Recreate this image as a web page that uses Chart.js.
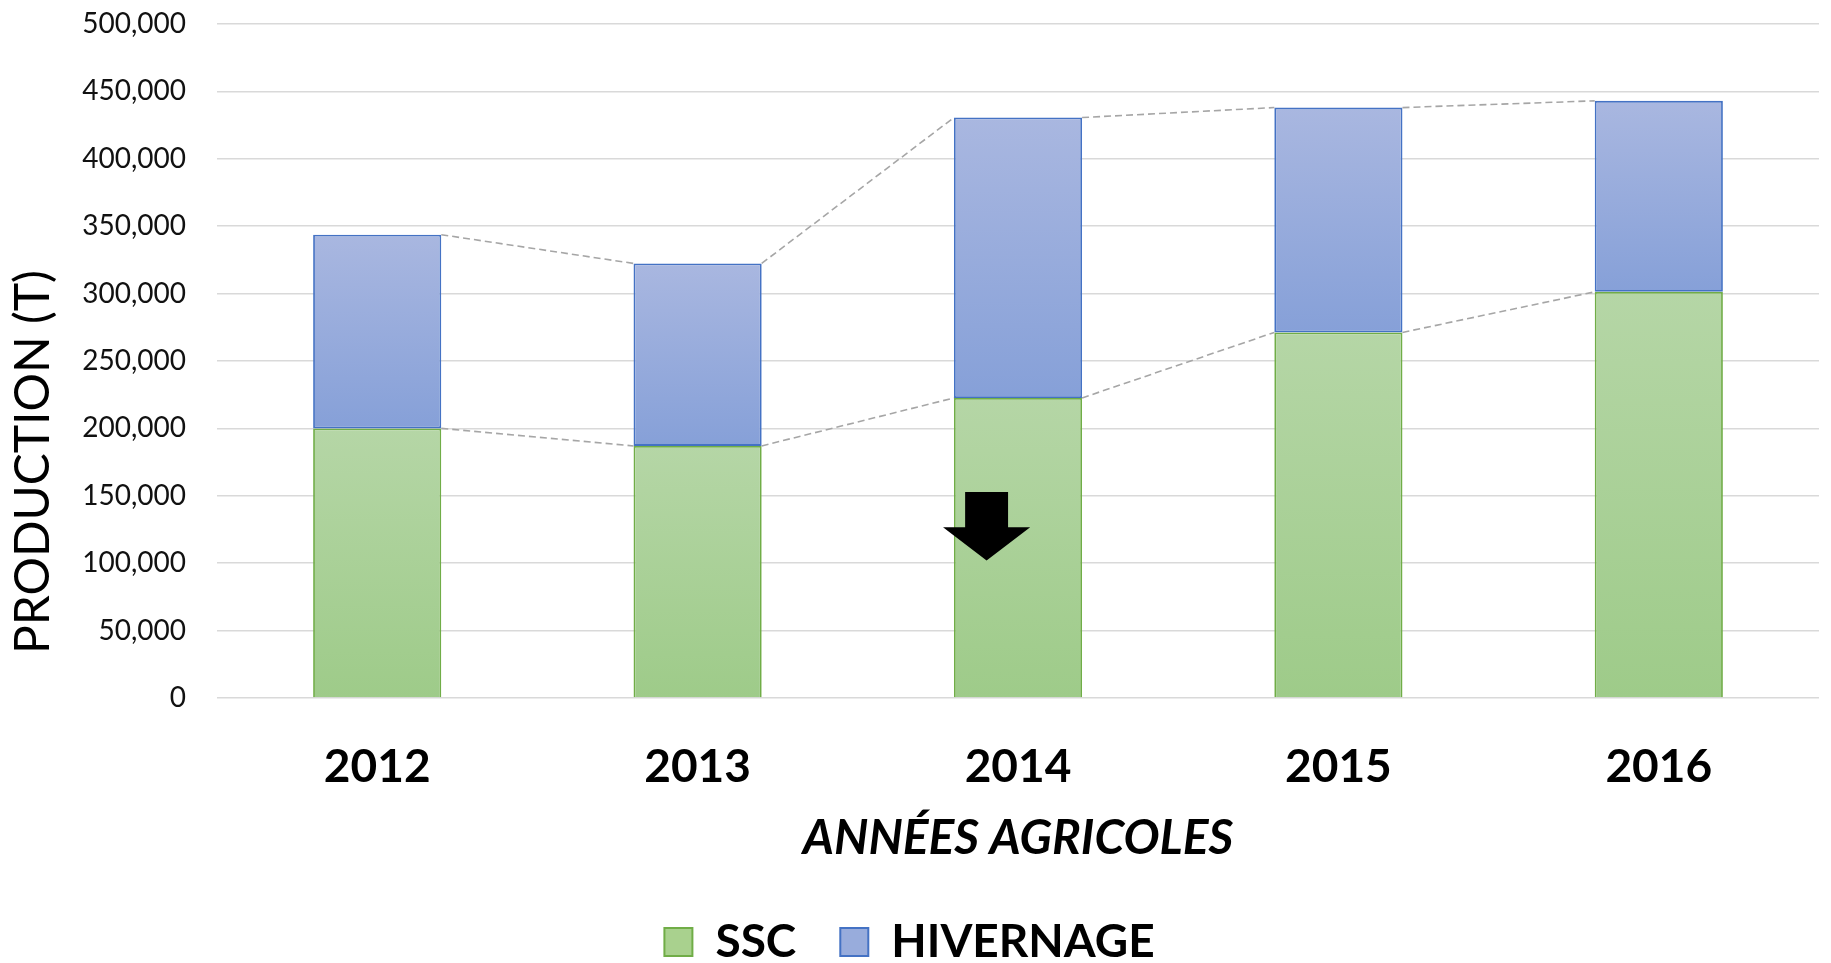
<!DOCTYPE html>
<html>
<head>
<meta charset="utf-8">
<script src="https://cdn.jsdelivr.net/npm/chart.js@4.4.0/dist/chart.umd.min.js"></script>
<style>
  html, body { margin: 0; padding: 0; background: #fff; }
  #wrap { width: 1831px; height: 963px; }
</style>
</head>
<body>
<div id="wrap"><canvas id="myChart"></canvas></div>
<script>
const years = ['2012', '2013', '2014', '2015', '2016'];
const ssc = [200000, 187000, 222600, 271200, 301300];
const hivernage = [143700, 135400, 208000, 166800, 141700];
const yMax = 500000;
const yStep = 50000;
const yTitle = 'PRODUCTION (T)';
const yTitleAt = 175000; // the y title sits below the middle of the axis

// down arrow annotation, in data units (category index + shift, production values)
const arrowYear = '2014';
const arrowShift = -0.098;
const arrowTop = 152750, arrowHeadBase = 126750, arrowTip = 102000;

const FONT = 'Lato, "Open Sans", sans-serif';

function barGradient(dsIndex, topColor, bottomColor) {
  return function (ctx) {
    const chart = ctx.chart;
    if (!chart.chartArea || ctx.type !== 'data') return bottomColor;
    const y = chart.scales.y;
    const i = ctx.dataIndex;
    let base = 0;
    for (let d = 0; d < dsIndex; d++) base += chart.data.datasets[d].data[i];
    const val = base + chart.data.datasets[dsIndex].data[i];
    const g = chart.ctx.createLinearGradient(0, y.getPixelForValue(val), 0, y.getPixelForValue(base));
    g.addColorStop(0, topColor);
    g.addColorStop(1, bottomColor);
    return g;
  };
}

const connectors = {
  id: 'connectors',
  afterDatasetsDraw(chart) {
    const c = chart.ctx;
    c.save();
    c.strokeStyle = '#a6a6a6';
    c.lineWidth = 1.6;
    c.setLineDash([7, 4]);
    chart.data.datasets.forEach((ds, di) => {
      const bars = chart.getDatasetMeta(di).data;
      for (let i = 0; i < bars.length - 1; i++) {
        const a = bars[i], b = bars[i + 1];
        c.beginPath();
        c.moveTo(a.x + a.width / 2, a.y);
        c.lineTo(b.x - b.width / 2, b.y);
        c.stroke();
      }
    });
    c.restore();
  }
};

const arrow = {
  id: 'arrow',
  afterDatasetsDraw(chart) {
    const x = chart.scales.x, y = chart.scales.y;
    const idx = years.indexOf(arrowYear);
    const cat = x.getPixelForValue(1) - x.getPixelForValue(0);
    const cx = x.getPixelForValue(idx + arrowShift);
    const shaft = cat * 0.067, head = cat * 0.136;
    const c = chart.ctx;
    c.save();
    c.fillStyle = '#000';
    c.beginPath();
    c.moveTo(cx - shaft, y.getPixelForValue(arrowTop));
    c.lineTo(cx + shaft, y.getPixelForValue(arrowTop));
    c.lineTo(cx + shaft, y.getPixelForValue(arrowHeadBase));
    c.lineTo(cx + head, y.getPixelForValue(arrowHeadBase));
    c.lineTo(cx, y.getPixelForValue(arrowTip));
    c.lineTo(cx - head, y.getPixelForValue(arrowHeadBase));
    c.lineTo(cx - shaft, y.getPixelForValue(arrowHeadBase));
    c.closePath();
    c.fill();
    c.restore();
  }
};

const yAxisTitle = {
  id: 'yAxisTitle',
  afterDraw(chart) {
    const c = chart.ctx;
    c.save();
    c.translate(34, chart.scales.y.getPixelForValue(yTitleAt));
    c.rotate(-Math.PI / 2);
    c.fillStyle = '#000';
    c.font = '48px ' + FONT;
    c.textAlign = 'center';
    c.textBaseline = 'middle';
    c.fillText(yTitle, 0, 0);
    c.restore();
  }
};

const ctx = document.getElementById('myChart');

new Chart(ctx, {
  type: 'bar',
  data: {
    labels: years,
    datasets: [{
      label: 'SSC',
      data: ssc,
      backgroundColor: barGradient(0, '#b5d6a6', '#9ecb89'),
      borderColor: '#70ad47',
      borderWidth: 1.8,
      legendFill: '#a9d18e'
    }, {
      label: 'HIVERNAGE',
      data: hivernage,
      backgroundColor: barGradient(1, '#a9b7e0', '#86a0d8'),
      borderColor: '#4472c4',
      borderWidth: 1.8,
      borderSkipped: false,
      legendFill: '#98acdc'
    }]
  },
  options: {
    responsive: true,
    maintainAspectRatio: false,
    animation: false,
    devicePixelRatio: 1,
    layout: { padding: { top: 0, right: 12, bottom: -12, left: 0 } },
    datasets: { bar: { barPercentage: 0.4, categoryPercentage: 1.0 } },
    plugins: {
      tooltip: { enabled: false },
      legend: {
        position: 'bottom',
        labels: {
          color: '#000',
          font: { family: FONT, size: 46, weight: 'bold' },
          boxWidth: 28,
          boxHeight: 28,
          padding: 44,
          generateLabels(chart) {
            return chart.data.datasets.map((ds, i) => ({
              text: ds.label,
              fillStyle: ds.legendFill,
              strokeStyle: ds.borderColor,
              lineWidth: 2,
              fontColor: '#000',
              datasetIndex: i
            }));
          }
        }
      }
    },
    scales: {
      x: {
        stacked: true,
        afterFit(scale) { scale.height = 177; },
        grid: { display: false, drawTicks: false },
        border: { display: false },
        ticks: {
          color: '#000',
          padding: 42,
          font: { family: FONT, size: 46, weight: 'bold' }
        },
        title: {
          display: true,
          text: 'ANNÉES AGRICOLES',
          color: '#000',
          font: { family: FONT, size: 48, weight: 'bold', style: 'italic' },
          padding: { top: 20, bottom: 8 }
        }
      },
      y: {
        stacked: true,
        min: 0,
        max: yMax,
        afterFit(scale) {
          scale.width = 217;
          scale.paddingTop = 24;
        },
        grid: { color: '#d9d9d9', lineWidth: 1.5, drawTicks: false },
        border: { display: false },
        ticks: {
          stepSize: yStep,
          color: '#111',
          padding: 31,
          font: { family: FONT, size: 28 },
          callback: v => v.toLocaleString('en-US')
        }
      }
    }
  },
  plugins: [connectors, arrow, yAxisTitle]
});
</script>
</body>
</html>
